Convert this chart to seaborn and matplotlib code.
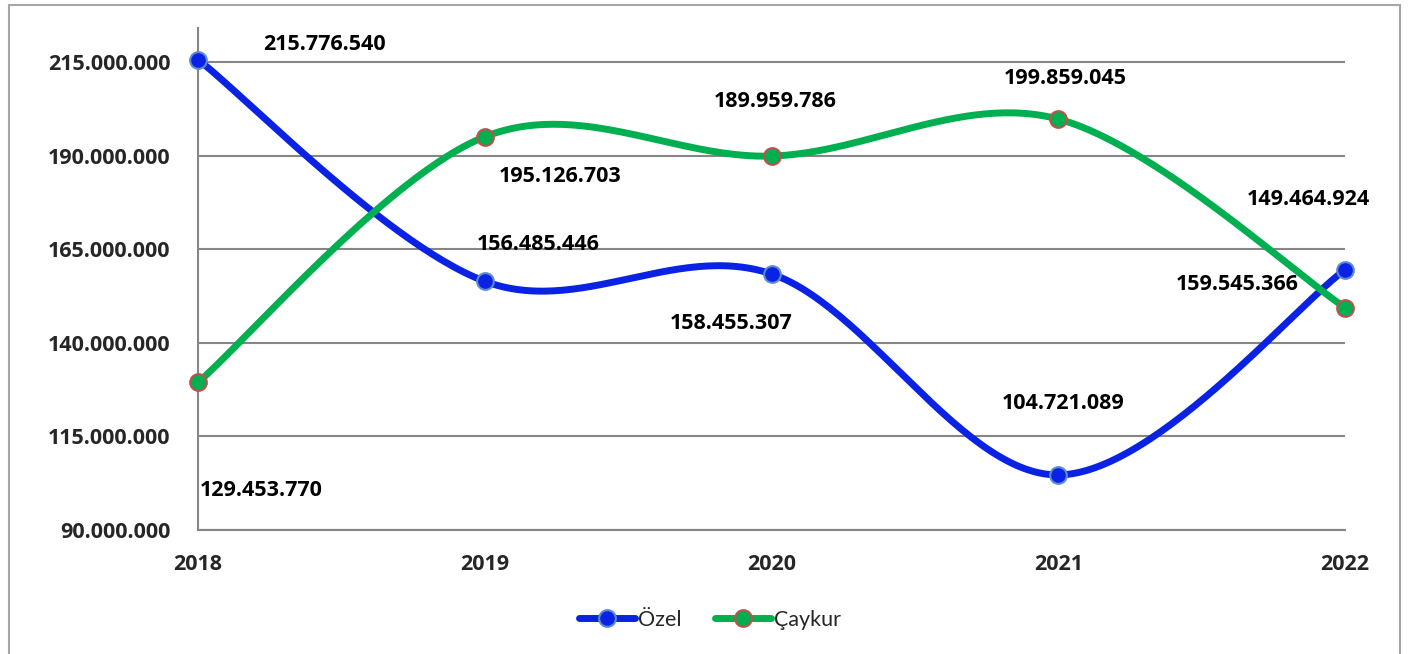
import numpy as np
import pandas as pd
import matplotlib
matplotlib.use("Agg")
import matplotlib.pyplot as plt
from matplotlib.lines import Line2D
from matplotlib.patches import Rectangle
import seaborn as sns

years = [2018, 2019, 2020, 2021, 2022]
ozel = [215776540, 156485446, 158455307, 104721089, 159545366]
caykur = [129453770, 195126703, 189959786, 199859045, 149464924]
y_ticks = [90000000, 115000000, 140000000, 165000000, 190000000, 215000000]

# label offsets in pixels (label center relative to point)
ozel_offsets = [(126, 15), (53, 37), (-40, -50), (5, 71), (-108, -15)]
caykur_offsets = [(63, -108), (75, -40), (4, 55), (7, 41), (-37, 108)]
ozel_texts = ["215.776.540", "156.485.446", "158.455.307", "104.721.089", "159.545.366"]
caykur_texts = ["129.453.770", "195.126.703", "189.959.786", "199.859.045", "149.464.924"]

BLUE = "#0A22E3"
GREEN = "#00B050"
BOLD_FONT = ["Open Sans", "DejaVu Sans"]
FS = 15.5


def smooth(xs, ys, n=60):
    # Catmull-Rom style smoothing like Excel's "smoothed line"
    xs = np.asarray(xs, float)
    ys = np.asarray(ys, float)
    px = np.concatenate([[xs[0]], xs, [xs[-1]]])
    py = np.concatenate([[ys[0]], ys, [ys[-1]]])
    out_x, out_y = [], []
    t = np.linspace(0, 1, n)
    for i in range(1, len(px) - 2):
        p0x, p1x, p2x, p3x = px[i - 1], px[i], px[i + 1], px[i + 2]
        p0y, p1y, p2y, p3y = py[i - 1], py[i], py[i + 1], py[i + 2]
        c1x, c1y = p1x + (p2x - p0x) / 6, p1y + (p2y - p0y) / 6
        c2x, c2y = p2x - (p3x - p1x) / 6, p2y - (p3y - p1y) / 6
        bx = (1 - t) ** 3 * p1x + 3 * (1 - t) ** 2 * t * c1x + 3 * (1 - t) * t ** 2 * c2x + t ** 3 * p2x
        by = (1 - t) ** 3 * p1y + 3 * (1 - t) ** 2 * t * c1y + 3 * (1 - t) * t ** 2 * c2y + t ** 3 * p2y
        out_x.extend(bx)
        out_y.extend(by)
    return np.array(out_x), np.array(out_y)


sns.set_style("white")
plt.rcParams["font.family"] = ["Lato", "DejaVu Sans"]

fig = plt.figure(figsize=(14.08, 6.54), dpi=100)
ax = fig.add_axes([198 / 1408, 1 - 530 / 654, (1345 - 198) / 1408, (530 - 28) / 654])

# outer chart frame
fig.patches.append(Rectangle((9 / 1408, -0.05), (1400 - 9) / 1408, 1.05 - 5 / 654,
                             transform=fig.transFigure, fill=False,
                             edgecolor="#A6A6A6", linewidth=1.5))

for vals, color, edge in [(ozel, BLUE, "#5B8BD0"), (caykur, GREEN, "#C0504D")]:
    sx, sy = smooth(years, vals)
    df = pd.DataFrame({"x": sx, "y": sy})
    sns.lineplot(data=df, x="x", y="y", ax=ax, color=color, linewidth=5,
                 sort=False, estimator=None, zorder=3)
    ax.plot(years, vals, linestyle="none", marker="o", markersize=12,
            markerfacecolor=color, markeredgecolor=edge, markeredgewidth=1.5,
            zorder=4, clip_on=False)

for vals, texts, offs in [(ozel, ozel_texts, ozel_offsets), (caykur, caykur_texts, caykur_offsets)]:
    for x, v, t, (dx, dy) in zip(years, vals, texts, offs):
        ax.annotate(t, (x, v), xytext=(dx, dy), textcoords="offset pixels",
                    ha="center", va="center", fontsize=FS, fontweight="bold",
                    family=BOLD_FONT, color="black", zorder=5)

ax.set_xlim(2018, 2022)
ax.set_ylim(90000000, 224200000)
ax.set_xticks(years)
ax.set_xticklabels([str(y) for y in years])
ax.set_yticks(y_ticks)
ax.set_yticklabels([f"{v:,}".replace(",", ".") for v in y_ticks])
ax.grid(axis="y", color="#868686", linewidth=1.5)
ax.grid(axis="x", visible=False)
ax.set_xlabel("")
ax.set_ylabel("")

for side in ["top", "right"]:
    ax.spines[side].set_visible(False)
for side in ["left", "bottom"]:
    ax.spines[side].set_color("#868686")
    ax.spines[side].set_linewidth(1.5)

ax.tick_params(axis="both", which="major", length=8, width=1.5, color="#868686",
               labelsize=FS, direction="out")
ax.tick_params(axis="y", pad=12)
ax.tick_params(axis="x", pad=9)
for lbl in ax.get_xticklabels() + ax.get_yticklabels():
    lbl.set_fontweight("bold")
    lbl.set_family(BOLD_FONT)

handles = [
    Line2D([], [], color=BLUE, linewidth=5, marker="o", markersize=12,
           markerfacecolor=BLUE, markeredgecolor="#5B8BD0", markeredgewidth=1.5),
    Line2D([], [], color=GREEN, linewidth=5, marker="o", markersize=12,
           markerfacecolor=GREEN, markeredgecolor="#C0504D", markeredgewidth=1.5),
]
fig.legend(handles, ["Özel", "Çaykur"], loc="center", bbox_to_anchor=(710 / 1408, 1 - 620 / 654),
           ncol=2, frameon=False, fontsize=15.5, handlelength=2.6, handletextpad=0.1,
           columnspacing=1.6)

fig.savefig("out.png", dpi=100)
